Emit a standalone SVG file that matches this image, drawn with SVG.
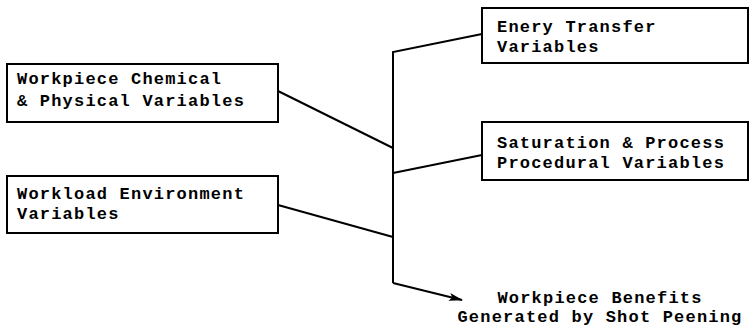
<svg xmlns="http://www.w3.org/2000/svg" width="753" height="328" viewBox="0 0 753 328">
<defs>
<style>
.box{fill:#fff;stroke:#000;stroke-width:2}
.t{font-family:"Liberation Mono","Courier New",monospace;font-size:17px;letter-spacing:1.2px;fill:#000;font-weight:bold}
.c{fill:none;stroke:#000;stroke-width:2}
</style>
<marker id="ah" markerWidth="14" markerHeight="8" refX="13" refY="4" orient="auto" markerUnits="userSpaceOnUse">
<path d="M0,0 L14,4 L0,8 L3,4 Z" fill="#000"/>
</marker>
</defs>
<rect width="753" height="328" fill="#fff"/>
<g id="connectors">
<polyline class="c" points="482,34 393,52 393,283"/>
<line class="c" x1="482" y1="155" x2="393" y2="173"/>
<line class="c" x1="278" y1="91" x2="393" y2="148"/>
<line class="c" x1="278" y1="205" x2="393" y2="237"/>
<line class="c" x1="393" y1="283" x2="462" y2="300" marker-end="url(#ah)"/>
</g>
<g id="n1">
<rect class="box" x="7" y="64" width="271" height="58"/>
<text class="t" x="17" y="84">Workpiece Chemical</text>
<text class="t" x="17" y="106">&amp; Physical Variables</text>
</g>
<g id="n2">
<rect class="box" x="7" y="176" width="271" height="57"/>
<text class="t" x="17" y="199">Workload Environment</text>
<text class="t" x="17" y="219">Variables</text>
</g>
<g id="n3">
<rect class="box" x="482" y="8" width="266" height="55"/>
<text class="t" x="497" y="32">Enery Transfer</text>
<text class="t" x="497" y="52">Variables</text>
</g>
<g id="n4">
<rect class="box" x="482" y="122" width="266" height="58"/>
<text class="t" x="497" y="148">Saturation &amp; Process</text>
<text class="t" x="497" y="168">Procedural Variables</text>
</g>
<g id="n5">
<text class="t" x="600" y="303" text-anchor="middle">Workpiece Benefits</text>
<text class="t" x="600" y="322" text-anchor="middle">Generated by Shot Peening</text>
</g>
</svg>
